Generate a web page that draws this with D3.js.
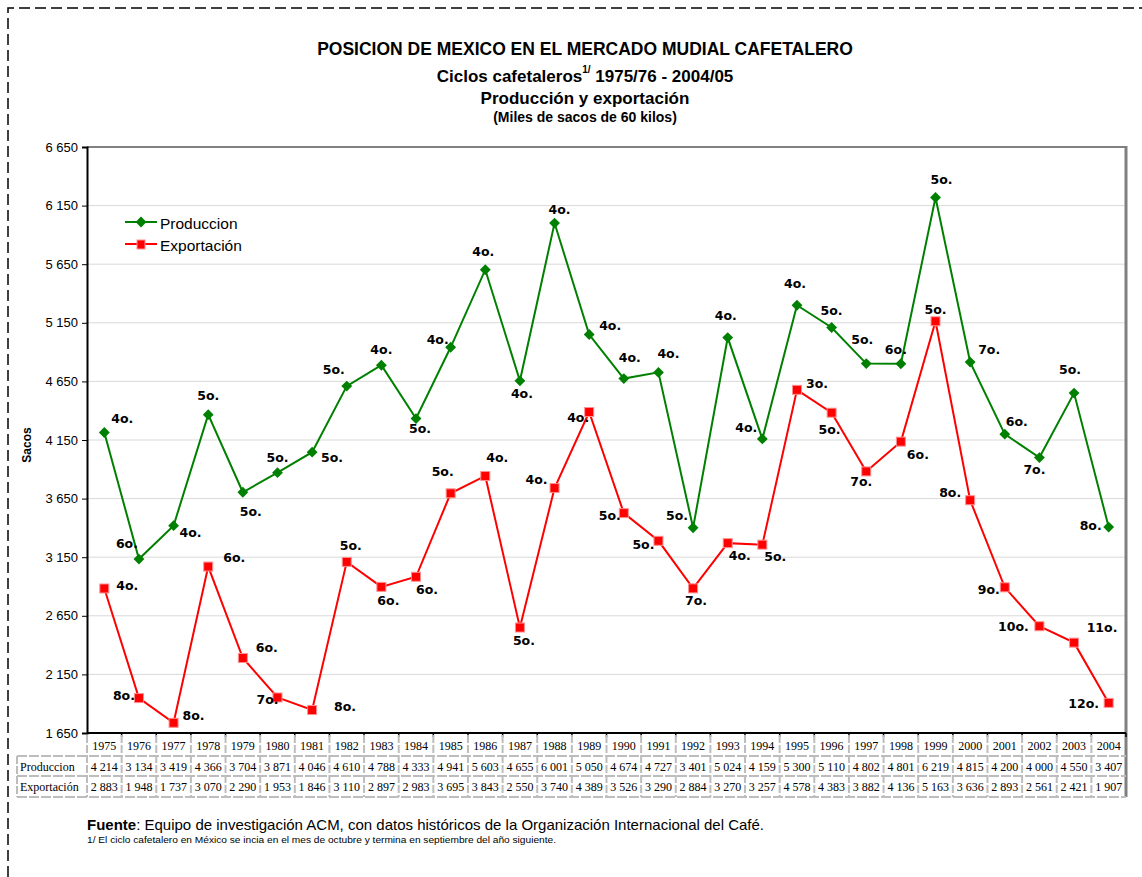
<!DOCTYPE html>
<html>
<head>
<meta charset="utf-8">
<script src="https://cdn.jsdelivr.net/npm/d3@7"></script>
<style>
  body { margin: 0; background: #fff; }
  svg text { font-family: Arial, "Liberation Sans", sans-serif; }
</style>
</head>
<body>
<div id="chart"></div>
<script>
const years = [1975, 1976, 1977, 1978, 1979, 1980, 1981, 1982, 1983, 1984, 1985, 1986, 1987, 1988, 1989,
  1990, 1991, 1992, 1993, 1994, 1995, 1996, 1997, 1998, 1999, 2000, 2001, 2002, 2003, 2004]
const produccion = [4214, 3134, 3419, 4366, 3704, 3871, 4046, 4610, 4788, 4333, 4941, 5603, 4655, 6001, 5050,
  4674, 4727, 3401, 5024, 4159, 5300, 5110, 4802, 4801, 6219, 4815, 4200, 4000, 4550, 3407]
const exportacion = [2883, 1948, 1737, 3070, 2290, 1953, 1846, 3110, 2897, 2983, 3695, 3843, 2550, 3740, 4389,
  3526, 3290, 2884, 3270, 3257, 4578, 4383, 3882, 4136, 5163, 3636, 2893, 2561, 2421, 1907]
const lugarProd = ["4o.", "6o.", "4o.", "5o.", "5o.", "5o.", "5o.", "5o.", "4o.", "5o.", "4o.", "4o.", "4o.", "4o.", "4o.",
  "4o.", "4o.", "5o.", "4o.", "4o.", "4o.", "5o.", "5o.", "6o.", "5o.", "7o.", "6o.", "7o.", "5o.", "8o."]
const lugarExp = ["4o.", "8o.", "8o.", "6o.", "6o.", "7o.", "8o.", "5o.", "6o.", "6o.", "5o.", "4o.", "5o.", "4o.", "4o.",
  "5o.", "5o.", "7o.", "4o.", "5o.", "3o.", "5o.", "7o.", "6o.", "5o.", "8o.", "9o.", "10o.", "11o.", "12o."]
const yTicks = [1650, 2150, 2650, 3150, 3650, 4150, 4650, 5150, 5650, 6150, 6650]

// label offsets (label centre relative to the point), hand placed like the excel original
const offProd = [[18,-14],[-12,-16],[17,6],[0,-20],[8,19],[0,-16],[20,5],[-13,-17],[0,-16],[4,9],[-13,-8],[-2,-19],
  [2,12],[5,-14],[21,-10],[6,-22],[10,-19],[-16,-13],[-2,-23],[-16,-12],[-2,-22],[0,-17],[-4,-25],[-5,-15],
  [6,-19],[19,-13],[12,-13],[-5,11],[-4,-24],[-18,-2]]
const offExp = [[23,-3],[-15,-3],[20,-8],[26,-10],[24,-11],[-10,2],[33,-4],[4,-17],[7,13],[11,12],[-8,-22],[12,-19],
  [4,12],[-18,-9],[-11,5],[-14,2],[-15,3],[3,12],[12,12],[13,11],[20,-7],[-2,16],[-5,10],[17,12],[0,-12],
  [-20,-8],[-16,2],[-26,0],[28,-16],[-25,0]]

const W = 1142, H = 877
const margin = { left: 87, right: 1126, top: 147, bottom: 733 }

const svg = d3.select("#chart").append("svg")
  .attr("width", W)
  .attr("height", H)

// dashed page border
svg.append("path")
  .attr("d", `M8,${H} L8,8 L${W},8`)
  .attr("fill", "none")
  .attr("stroke", "#000")
  .attr("stroke-width", 1.5)
  .attr("stroke-dasharray", "11,5")

const x = d3.scaleBand().domain(years).range([margin.left, margin.right])
const y = d3.scaleLinear().domain([1650, 6650]).range([margin.bottom, margin.top])
const cx = d => x(d) + x.bandwidth() / 2
const fmt = v => d3.format(",")(v).replace(",", " ")

// titles
const cxTitle = 585
svg.append("text").attr("x", cxTitle).attr("y", 55).attr("text-anchor", "middle")
  .style("font-size", "17.5px").style("font-weight", "bold")
  .text("POSICION DE MEXICO EN EL MERCADO MUDIAL CAFETALERO")
const t2 = svg.append("text").attr("x", cxTitle).attr("y", 82).attr("text-anchor", "middle")
  .style("font-size", "17px").style("font-weight", "bold")
t2.append("tspan").text("Ciclos cafetaleros")
t2.append("tspan").attr("dy", -9).style("font-size", "10px").text("1/")
t2.append("tspan").attr("dy", 9).text(" 1975/76 - 2004/05")
svg.append("text").attr("x", cxTitle).attr("y", 104).attr("text-anchor", "middle")
  .style("font-size", "17px").style("font-weight", "bold")
  .text("Producción y exportación")
svg.append("text").attr("x", cxTitle).attr("y", 122).attr("text-anchor", "middle")
  .style("font-size", "14px").style("font-weight", "bold")
  .text("(Miles de sacos de 60 kilos)")

// gridlines
svg.append("g").selectAll("line")
  .data(yTicks.slice(1, -1))
  .join("line")
  .attr("x1", margin.left).attr("x2", margin.right)
  .attr("y1", d => y(d)).attr("y2", d => y(d))
  .attr("stroke", "#d9d9d9")

// top and right plot border
svg.append("line")
  .attr("x1", margin.left).attr("x2", margin.right)
  .attr("y1", margin.top).attr("y2", margin.top)
  .attr("stroke", "#808080").attr("stroke-width", 2)
svg.append("line")
  .attr("x1", margin.right).attr("x2", margin.right)
  .attr("y1", margin.top - 1).attr("y2", 797)
  .attr("stroke", "#808080").attr("stroke-width", 3)

// y axis
const yAxis = svg.append("g")
  .attr("transform", `translate(${margin.left},0)`)
  .call(d3.axisLeft(y).tickValues(yTicks).tickSize(5).tickPadding(4).tickFormat(fmt))
yAxis.select(".domain").attr("stroke-width", 2)
yAxis.selectAll("text").attr("fill", "#000")
  .style("font-size", "13px")
  .style("font-family", "Arial, 'Liberation Sans', sans-serif")

svg.append("text")
  .attr("transform", "translate(31,445) rotate(-90)")
  .attr("text-anchor", "middle")
  .style("font-size", "12px").style("font-weight", "bold")
  .text("Sacos")

// x axis line with ticks at category boundaries
svg.append("line")
  .attr("x1", margin.left).attr("x2", margin.right)
  .attr("y1", margin.bottom).attr("y2", margin.bottom)
  .attr("stroke", "#000").attr("stroke-width", 2)
svg.append("g").selectAll("line")
  .data(years)
  .join("line")
  .attr("x1", d => x(d) + x.bandwidth()).attr("x2", d => x(d) + x.bandwidth())
  .attr("y1", margin.bottom).attr("y2", margin.bottom + 4)
  .attr("stroke", "#000").attr("stroke-width", 1.5)

// data table
const rowTop = [735, 756, 776, 797]
const tbl = svg.append("g")
const grey = "#bdbdbd"
rowTop.slice(1).forEach(r => {
  tbl.append("line").attr("x1", 17).attr("x2", margin.right).attr("y1", r).attr("y2", r)
    .attr("stroke", grey).attr("stroke-width", 2).attr("stroke-dasharray", "10,2")
})
tbl.append("line").attr("x1", 17).attr("x2", 17).attr("y1", rowTop[1]).attr("y2", rowTop[3])
  .attr("stroke", grey).attr("stroke-width", 2).attr("stroke-dasharray", "8,2")
tbl.selectAll(".vcol")
  .data(years)
  .join("line")
  .attr("x1", d => x(d)).attr("x2", d => x(d))
  .attr("y1", rowTop[0]).attr("y2", rowTop[3])
  .attr("stroke", grey).attr("stroke-width", 2).attr("stroke-dasharray", "8,2")

const tableRows = [
  { label: null, vals: years.map(String) },
  { label: "Produccion", vals: produccion.map(fmt) },
  { label: "Exportación", vals: exportacion.map(fmt) }
]
tableRows.forEach((row, ri) => {
  const base = rowTop[ri] + 15
  if (row.label) {
    tbl.append("text").attr("x", 20).attr("y", base)
      .style("font-family", "'Liberation Serif', 'Times New Roman', serif").style("font-size", "12px")
      .text(row.label)
  }
  tbl.selectAll(null)
    .data(row.vals)
    .join("text")
    .attr("x", (d, i) => cx(years[i]))
    .attr("y", base)
    .attr("text-anchor", "middle")
    .style("font-family", "'Liberation Serif', 'Times New Roman', serif").style("font-size", "12px")
    .text(d => d)
})

// lines
const line = d3.line().x(d => cx(d.year)).y(d => y(d.v))
const prodData = years.map((yr, i) => ({ year: yr, v: produccion[i], lab: lugarProd[i], off: offProd[i] }))
const expData = years.map((yr, i) => ({ year: yr, v: exportacion[i], lab: lugarExp[i], off: offExp[i] }))

svg.append("path").datum(prodData).attr("d", line)
  .attr("fill", "none").attr("stroke", "#008000").attr("stroke-width", 2)
svg.append("path").datum(expData).attr("d", line)
  .attr("fill", "none").attr("stroke", "#ff0000").attr("stroke-width", 2)

const diamond = d3.symbol().type(d3.symbolDiamond2).size(75)
svg.append("g").selectAll("path")
  .data(prodData)
  .join("path")
  .attr("d", diamond)
  .attr("transform", d => `translate(${cx(d.year)},${y(d.v)})`)
  .attr("fill", "#008000")

svg.append("g").selectAll("rect")
  .data(expData)
  .join("rect")
  .attr("x", d => cx(d.year) - 4.5).attr("y", d => y(d.v) - 4.5)
  .attr("width", 9).attr("height", 9)
  .attr("fill", "#ff0000").attr("stroke", "#ff9090").attr("stroke-width", 1)

// rank labels
function addLabels(data) {
  svg.append("g").selectAll("text")
    .data(data)
    .join("text")
    .attr("x", d => cx(d.year) + d.off[0])
    .attr("y", d => y(d.v) + d.off[1] + 5)
    .attr("text-anchor", "middle")
    .style("font-family", "'DejaVu Sans', Verdana, sans-serif")
    .style("font-size", "12.5px").style("font-weight", "bold")
    .text(d => d.lab)
}
addLabels(prodData)
addLabels(expData)

// legend
const leg = svg.append("g")
leg.append("line").attr("x1", 125).attr("x2", 157).attr("y1", 222).attr("y2", 222)
  .attr("stroke", "#008000").attr("stroke-width", 2)
leg.append("path").attr("d", diamond).attr("transform", "translate(141,222)").attr("fill", "#008000")
leg.append("text").attr("x", 160).attr("y", 229).style("font-size", "15.5px").text("Produccion")
leg.append("line").attr("x1", 125).attr("x2", 157).attr("y1", 244).attr("y2", 244)
  .attr("stroke", "#ff0000").attr("stroke-width", 2)
leg.append("rect").attr("x", 137).attr("y", 240).attr("width", 8).attr("height", 9)
  .attr("fill", "#ff0000").attr("stroke", "#ff9090")
leg.append("text").attr("x", 160).attr("y", 251).style("font-size", "15.5px").text("Exportación")

// source notes
const src = svg.append("text").attr("x", 87).attr("y", 830).style("font-size", "15px")
src.append("tspan").style("font-weight", "bold").text("Fuente")
src.append("tspan").text(": Equipo de investigación ACM, con datos históricos de la Organización Internacional del Café.")
svg.append("text").attr("x", 87).attr("y", 843).style("font-size", "9px")
  .attr("textLength", 469).attr("lengthAdjust", "spacingAndGlyphs")
  .text("1/ El ciclo cafetalero en México se incia en el mes de octubre y termina en septiembre del año siguiente.")
</script>
</body>
</html>
